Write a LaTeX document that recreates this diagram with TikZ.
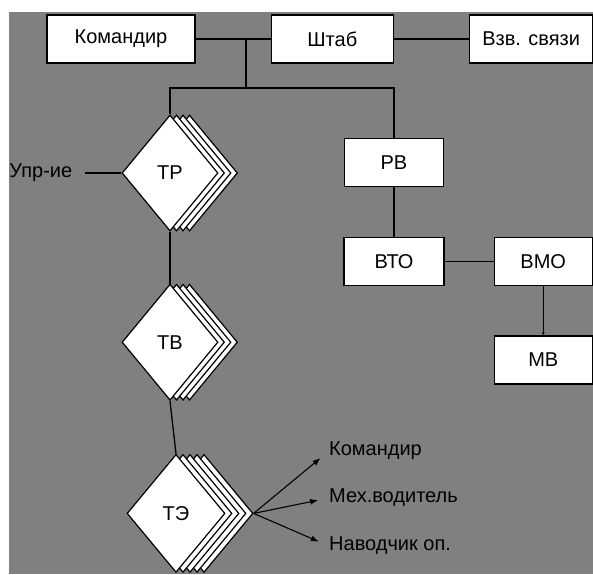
\documentclass[tikz,border=0pt]{standalone}
\usepackage{fontspec}
\setmainfont{Liberation Sans}
\usetikzlibrary{arrows.meta,positioning,shapes.geometric,shadows}
\definecolor{bggray}{RGB}{128,128,128}
\tikzset{
  block/.style={draw, fill=white, line width=1.3pt, align=center, minimum height=48pt, font=\fontsize{20}{22}\selectfont},
  rhomb/.style={shape=diamond, draw, fill=white, line width=1.2pt, minimum width=96pt, minimum height=116pt, inner sep=0pt, font=\fontsize{20}{22}\selectfont},
  sheet/.style={copy shadow={shadow xshift=#1, shadow yshift=0pt, fill=white, draw=black, line width=1.2pt}},
  tag/.style={inner sep=0pt, font=\fontsize{20}{22}\selectfont},
  link/.style={line width=1.3pt},
  flow/.style={-{Latex[length=8pt,width=6pt]}, line width=1.1pt}
}
\begin{document}
\begin{tikzpicture}[x=1pt, y=-1pt]
\fill[bggray] (9,12) rectangle (593,574);
\useasboundingbox (0,0) rectangle (593,574);
\node[block, minimum width=148pt] (komandir) at (121,39) {Командир};
\node[block, minimum width=122pt, right=75pt of komandir] (shtab) {Штаб};
\node[block, minimum width=123pt, right=75pt of shtab] (svyaz) {Взв. связи};
\node[block, minimum width=99pt, below=74pt of shtab.south east] (rv) {РВ};
\node[block, minimum width=100pt, below=50pt of rv] (vto) {ВТО};
\node[block, minimum width=98pt, right=49pt of vto] (vmo) {ВМО};
\node[block, minimum width=98pt, below=49pt of vmo] (mv) {МВ};
\node[rhomb, sheet=19.5pt, sheet=13pt, sheet=6.5pt] (tr) at (170,173) {ТР};
\node[rhomb, sheet=19.5pt, sheet=13pt, sheet=6.5pt, below=52pt of tr] (tb) {ТВ};
\node[rhomb, minimum width=98pt, minimum height=118pt, sheet=28pt, sheet=21pt, sheet=14pt, sheet=7pt, below=53pt of tb, xshift=6pt] (te) {ТЭ};
\node[tag, left=49pt of tr] (upr) {Упр-ие};
\node[tag, anchor=west] (crew1) at (329,451) {Командир};
\node[tag, anchor=west] (crew2) at (329,498) {Мех.водитель};
\node[tag, anchor=west] (crew3) at (329,546) {Наводчик оп.};
\coordinate (split) at (246,39);
\coordinate (bus) at (246,88);
\coordinate (tetip) at ([xshift=28pt]te.east);
\draw[link] (komandir) -- (shtab);
\draw[link] (shtab) -- (svyaz);
\draw[link] (split) -- (bus);
\draw[link] (tr.north) |- (bus) -| (rv.north);
\draw[link] (rv) -- (vto);
\draw[link] (vto) -- (vmo);
\draw[link, -{Latex[length=3pt,width=3pt]}] (vmo) -- (mv);
\draw[link, shorten <=13pt] (upr) -- (tr);
\draw[link] (tr) -- (tb);
\draw[link] (tb.south) -- (te.north);
\draw[flow, shorten >=11pt] (tetip) -- (crew1.west);
\draw[flow, shorten >=11pt] (tetip) -- (crew2.west);
\draw[flow, shorten >=11pt] (tetip) -- (crew3.west);
\end{tikzpicture}
\end{document}
